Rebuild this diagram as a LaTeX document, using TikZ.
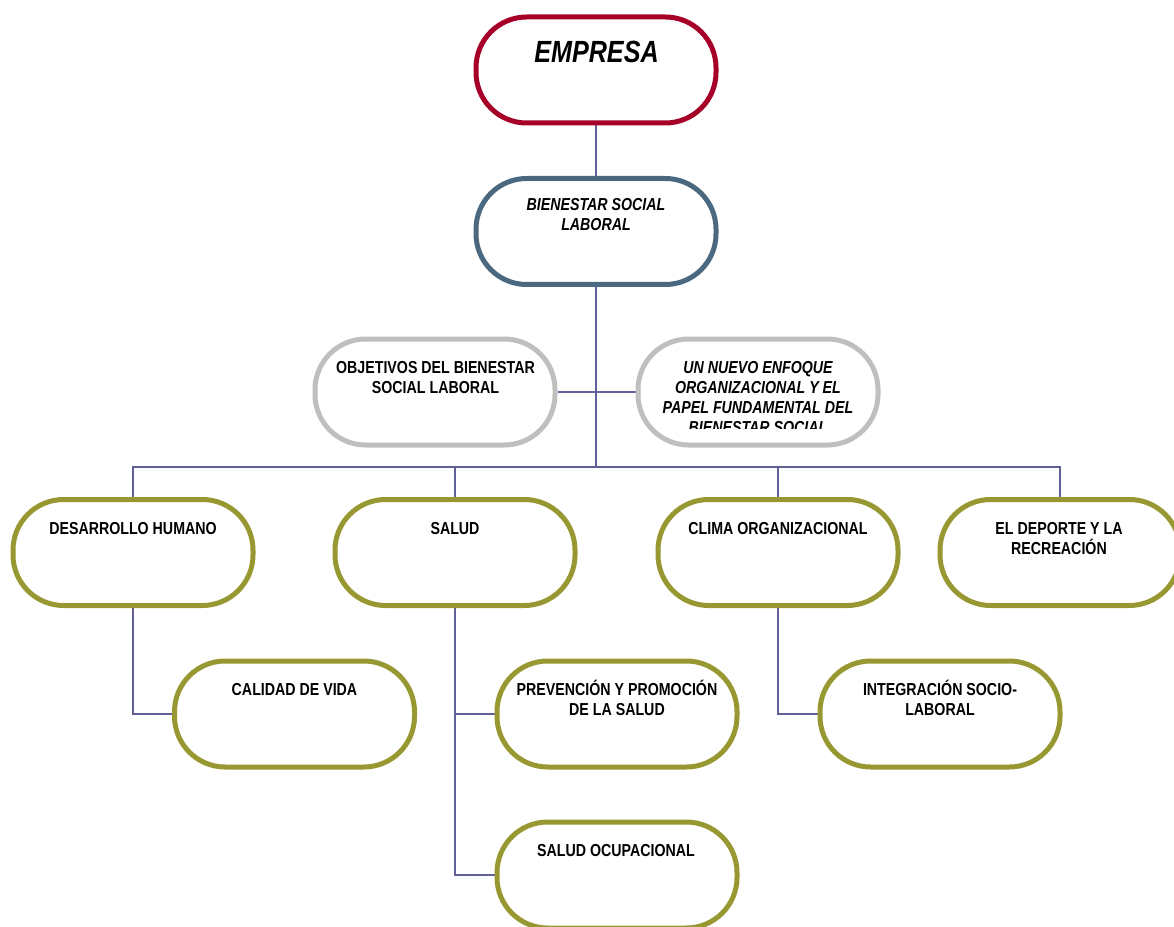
\documentclass[tikz,border=0pt]{standalone}
\usepackage{fontspec}
\setmainfont[FakeStretch=0.82]{Liberation Sans}
\usetikzlibrary{backgrounds}
\definecolor{cred}{RGB}{166,0,40}
\definecolor{cblue}{RGB}{74,105,128}
\definecolor{cgray}{RGB}{191,191,191}
\definecolor{colive}{RGB}{152,152,50}
\definecolor{cline}{RGB}{98,96,152}
\tikzset{
  pill/.style={draw=#1, line width=3.75pt, rounded corners=38pt, fill=white,
    minimum width=180pt, minimum height=79.5pt, inner sep=0pt},
  txt/.style={font=\fontsize{13}{15}\selectfont\bfseries, align=center, inner sep=0pt, anchor=base},
  itxt/.style={txt, font=\fontsize{13}{15}\selectfont\bfseries\itshape},
  conn/.style={draw=cline, line width=1.2pt}
}
\begin{document}
\begin{tikzpicture}[x=0.75pt,y=-0.75pt]
\useasboundingbox (0,0) rectangle (1174,927);
% boxes
\node[pill=cred] (emp) at (596,70) {};
\node[pill=cblue] (bien) at (596,231.5) {};
\node[pill=cgray] (obj) at (435,392) {};
\node[pill=cgray] (nuevo) at (758,392) {};
\node[pill=colive] (des) at (133,552.5) {};
\node[pill=colive] (sal) at (455,552.5) {};
\node[pill=colive] (clima) at (778,552.5) {};
\node[pill=colive] (dep) at (1060,552.5) {};
\node[pill=colive] (cal) at (294.5,714) {};
\node[pill=colive] (prev) at (617,714) {};
\node[pill=colive] (integ) at (940,714) {};
\node[pill=colive] (ocup) at (617,875) {};
% texts (anchor = baseline of the last line)
\node[font=\fontsize{23}{27}\selectfont\bfseries\itshape, inner sep=0pt, anchor=base] (t-emp) at (596.5,63) {EMPRESA};
\node[itxt] (t-bien) at (596,231) {BIENESTAR SOCIAL\\LABORAL};
\node[txt] (t-obj) at (435.5,393) {OBJETIVOS DEL BIENESTAR\\SOCIAL LABORAL};
\begin{scope}
\clip (620,330) rectangle (900,428);
\node[itxt] (t-nuevo) at (758,433) {UN NUEVO ENFOQUE\\ORGANIZACIONAL Y EL\\PAPEL FUNDAMENTAL DEL\\BIENESTAR SOCIAL};
\end{scope}
\node[txt] (t-des) at (133,534) {DESARROLLO HUMANO};
\node[txt] (t-sal) at (455,534) {SALUD};
\node[txt] (t-clima) at (778,534) {CLIMA ORGANIZACIONAL};
\node[txt] (t-dep) at (1059,554) {EL DEPORTE Y LA\\RECREACIÓN};
\node[txt] (t-cal) at (294.5,695) {CALIDAD DE VIDA};
\node[txt] (t-prev) at (617,715) {PREVENCIÓN Y PROMOCIÓN\\DE LA SALUD};
\node[txt] (t-integ) at (940,715) {INTEGRACIÓN SOCIO-\\LABORAL};
\node[txt] (t-ocup) at (616,856) {SALUD OCUPACIONAL};
% connectors
\coordinate (bus) at (596,467);
\begin{scope}[on background layer]
\draw[conn] (emp.south) -- (bien.north);
\draw[conn] (bien.south) -- (bus);
\draw[conn] (obj.east) -- (nuevo.west);
\draw[conn] (des.north) |- (bus);
\draw[conn] (sal.north) |- (bus);
\draw[conn] (clima.north) |- (bus);
\draw[conn] (dep.north) |- (bus);
\draw[conn] (des.south) |- (cal.west);
\draw[conn] (sal.south) |- (prev.west);
\draw[conn] (sal.south) |- (ocup.west);
\draw[conn] (clima.south) |- (integ.west);
\end{scope}
\end{tikzpicture}
\end{document}
